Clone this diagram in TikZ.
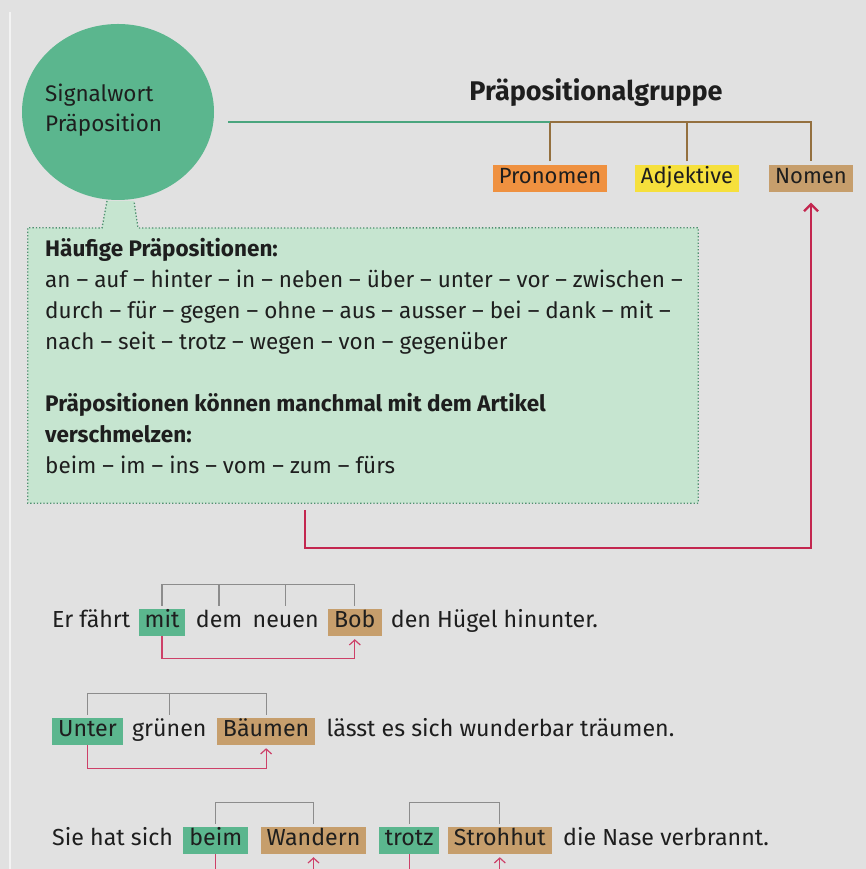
\documentclass[tikz,border=0pt]{standalone}
\usepackage{fontspec}
\setmainfont{Fira Sans}
\usetikzlibrary{positioning,shapes.geometric,arrows.meta}
\definecolor{bg}{HTML}{E1E1E1}
\definecolor{ink}{HTML}{1E1E1E}
\definecolor{sgreen}{HTML}{5BB68E}
\definecolor{lgreen}{HTML}{4AA57E}
\definecolor{boxgreen}{HTML}{C6E5D0}
\definecolor{dotgreen}{HTML}{4F9170}
\definecolor{lbrown}{HTML}{94703F}
\definecolor{porange}{HTML}{EF9140}
\definecolor{pyellow}{HTML}{F6E03C}
\definecolor{ptan}{HTML}{C69E6C}
\definecolor{rosered}{HTML}{C3264F}
\definecolor{lrose}{HTML}{CD4068}
\definecolor{sgray}{HTML}{8C8C8C}
\begin{document}
\begin{tikzpicture}[x=1pt,y=1pt,
  txt/.style={text=ink,font=\fontsize{23.2}{30}\selectfont},
  word/.style={txt,inner xsep=5pt,inner ysep=3.5pt,text height=15pt,text depth=5pt},
  tag/.style={word,inner xsep=6pt,fill=#1},
  gline/.style={draw=lgreen,line width=2pt},
  bline/.style={draw=lbrown,line width=2pt},
  bigarrow/.style={draw=rosered,line width=2.2pt,-{Straight Barb[length=7pt,width=14pt]}},
  brack/.style={draw=sgray,line width=1.2pt},
  back/.style={draw=lrose,line width=1.2pt,-{Straight Barb[length=5pt,width=11pt]}}]
\clip (0,0) rectangle (866,869);
\fill[bg] (0,0) rectangle (866,869);
\draw[white!60!bg,line width=1.5pt] (10,0) -- (10,857);
% info box with neck
\node[fill=boxgreen,minimum width=670pt,minimum height=275pt,inner sep=0] (info) at (363,503.5) {};
\fill[boxgreen] (102,641) -- (107,668) -- (134,668) -- (138,641) -- cycle;
\draw[dotgreen,line width=1.3pt,dash pattern=on 1.3pt off 2pt] (107,668) -- (102,641) -- (info.north west) -- (info.south west) -- (info.south east) -- (info.north east) -- (138,641) -- (134,668);
\node[ellipse,fill=sgreen,minimum width=192pt,minimum height=176pt,inner sep=0] (circ) at (118,757) {};
\node[txt,align=left,anchor=west,inner sep=0,font=\fontsize{22.5}{30}\selectfont] (sig) at (45,759) {Signalwort\\Präposition};
\node[txt,align=left,anchor=base west,inner sep=0,font=\fontsize{22.5}{31}\selectfont] (list) at (45,395.5) {%
\textbf{Häufige Präpositionen:}\\
an – auf – hinter – in – neben – über – unter – vor – zwischen –\\
durch – für – gegen – ohne – aus – ausser – bei – dank – mit –\\
nach – seit – trotz – wegen – von – gegenüber\\[31pt]
\textbf{Präpositionen können manchmal mit dem Artikel}\\
\textbf{verschmelzen:}\\
beim – im – ins – vom – zum – fürs};
% Praepositionalgruppe
\node[text=ink,font=\fontsize{27}{30}\selectfont\bfseries] (title) at (596,776) {Präpositionalgruppe};
\node[tag=porange,anchor=base,font=\fontsize{22}{30}\selectfont] (pron) at (550,685) {Pronomen};
\node[tag=pyellow,anchor=base,font=\fontsize{22}{30}\selectfont] (adj) at (687,685) {Adjektive};
\node[tag=ptan,anchor=base,font=\fontsize{22}{30}\selectfont] (nom) at (811,685) {Nomen};
\coordinate (gtop) at ([yshift=43pt]pron.north);
\draw[bline] ([yshift=4pt]pron.north) -- (gtop) -| ([yshift=4pt]nom.north);
\draw[bline] ([yshift=4pt]adj.north) -- ++(0,39);
\draw[gline,shorten <=14pt] (circ.east |- gtop) -- (gtop);
\coordinate (rs) at (305,359);
\draw[bigarrow] (rs) -- ++(0,-38) -| ([yshift=-10pt]nom.south);
% Satz 1
\node[word,anchor=base west] (s1a) at (47,241.5) {Er fährt};
\node[tag=sgreen,base right=3pt of s1a] (mit) {mit};
\node[word,base right=5pt of mit] (dem) {dem};
\node[word,base right=0pt of dem] (neu) {neuen};
\node[tag=ptan,base right=4pt of neu] (bob) {Bob};
\node[word,base right=4pt of bob] (s1b) {den Hügel hinunter.};
\draw[brack] ([yshift=3pt]mit.north) -- ++(0,21) -| ([yshift=3pt]bob.north);
\draw[brack] ([yshift=3pt]dem.north) -- ++(0,21);
\draw[brack] ([yshift=3pt]neu.north) -- ++(0,21);
\draw[back] (mit.south) -- ++(0,-22) -| ([yshift=-3pt]bob.south);
% Satz 2
\node[tag=sgreen,anchor=base west] (unter) at (52,132.5) {Unter};
\node[word,base right=4pt of unter] (gru) {grünen};
\node[tag=ptan,base right=5pt of gru] (baum) {Bäumen};
\node[word,base right=6pt of baum] (s2b) {lässt es sich wunderbar träumen.};
\draw[brack] ([yshift=3pt]unter.north) -- ++(0,21) -| ([yshift=3pt]baum.north);
\draw[brack] ([yshift=3pt]gru.north) -- ++(0,21);
\draw[back] (unter.south) -- ++(0,-23) -| ([yshift=-3pt]baum.south);
% Satz 3
\node[word,anchor=base west] (s3a) at (47,23.5) {Sie hat sich};
\node[tag=sgreen,base right=5pt of s3a] (beim) {beim};
\node[tag=ptan,base right=12pt of beim] (wand) {Wandern};
\node[tag=sgreen,base right=12pt of wand] (trotz) {trotz};
\node[tag=ptan,base right=8pt of trotz] (hut) {Strohhut};
\node[word,base right=6pt of hut] (s3b) {die Nase verbrannt.};
\draw[brack] ([yshift=3pt]beim.north) -- ++(0,21) -| ([yshift=3pt]wand.north);
\draw[brack] ([yshift=3pt]trotz.north) -- ++(0,21) -| ([yshift=3pt]hut.north);
\draw[back] (beim.south) -- ++(0,-22) -| ([yshift=-3pt]wand.south);
\draw[back] (trotz.south) -- ++(0,-22) -| ([yshift=-3pt]hut.south);
\end{tikzpicture}
\end{document}
